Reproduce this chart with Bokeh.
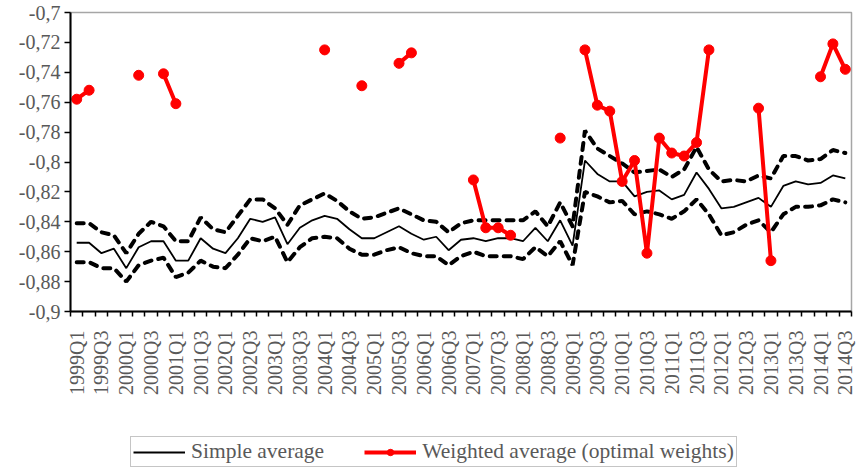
import math
import numpy as np
from bokeh.plotting import figure
from bokeh.layouts import column
from bokeh.models import Range1d, FixedTicker, Legend, LegendItem, ColumnDataSource
from bokeh.embed import file_html
from bokeh.resources import INLINE

# Quarterly periods 1999Q1 .. 2014Q3
quarters = [f"{y}Q{q}" for y in range(1999, 2015) for q in range(1, 5)][:63]

simple_avg = [
    -0.854, -0.854, -0.861, -0.858, -0.871, -0.857, -0.853, -0.853, -0.866, -0.866,
    -0.851, -0.858, -0.861, -0.851, -0.838, -0.840, -0.837, -0.855, -0.844, -0.839,
    -0.836, -0.838, -0.845, -0.851, -0.851, -0.847, -0.843, -0.848, -0.852, -0.850,
    -0.859, -0.852, -0.851, -0.853, -0.851, -0.851, -0.853, -0.844, -0.853, -0.839,
    -0.856, -0.799, -0.808, -0.813, -0.813, -0.823, -0.820, -0.819, -0.825, -0.822,
    -0.807, -0.818, -0.831, -0.830, -0.827, -0.824, -0.830, -0.816, -0.813, -0.815,
    -0.814, -0.809, -0.811,
]

upper_band = [
    -0.841, -0.841, -0.847, -0.849, -0.861, -0.848, -0.840, -0.843, -0.853, -0.853,
    -0.837, -0.845, -0.847, -0.836, -0.825, -0.825, -0.831, -0.842, -0.829, -0.825,
    -0.821, -0.826, -0.833, -0.838, -0.837, -0.834, -0.831, -0.835, -0.839, -0.840,
    -0.847, -0.841, -0.839, -0.839, -0.839, -0.839, -0.839, -0.833, -0.843, -0.827,
    -0.843, -0.779, -0.791, -0.796, -0.801, -0.807, -0.806, -0.805, -0.810, -0.805,
    -0.790, -0.805, -0.813, -0.812, -0.813, -0.809, -0.811, -0.796, -0.796, -0.799,
    -0.798, -0.792, -0.794,
]

lower_band = [
    -0.867, -0.867, -0.871, -0.871, -0.880, -0.869, -0.866, -0.864, -0.877, -0.874,
    -0.866, -0.870, -0.871, -0.862, -0.851, -0.853, -0.850, -0.867, -0.857, -0.851,
    -0.850, -0.851, -0.858, -0.862, -0.862, -0.859, -0.857, -0.861, -0.863, -0.863,
    -0.869, -0.863, -0.860, -0.863, -0.863, -0.863, -0.865, -0.857, -0.863, -0.853,
    -0.869, -0.820, -0.823, -0.827, -0.826, -0.835, -0.833, -0.835, -0.838, -0.833,
    -0.825, -0.835, -0.849, -0.847, -0.842, -0.839, -0.847, -0.835, -0.830, -0.830,
    -0.829, -0.825, -0.827,
]

nan = float("nan")
weighted_avg = [
    -0.758, -0.752, nan, nan, nan, -0.742, nan, -0.741, -0.761, nan,
    nan, nan, nan, nan, nan, nan, nan, nan, nan, nan,
    -0.725, nan, nan, -0.749, nan, nan, -0.734, -0.727, nan, nan,
    nan, nan, -0.812, -0.844, -0.844, -0.849, nan, nan, nan, -0.784,
    nan, -0.725, -0.762, -0.766, -0.813, -0.799, -0.861, -0.784, -0.794, -0.796,
    -0.787, -0.725, nan, nan, nan, -0.764, -0.866, nan, nan, nan,
    -0.743, -0.721, -0.738,
]

y_ticks = [-0.9, -0.88, -0.86, -0.84, -0.82, -0.8, -0.78, -0.76, -0.74, -0.72, -0.7]
y_tick_labels = ["-0,9", "-0,88", "-0,86", "-0,84", "-0,82", "-0,8",
                 "-0,78", "-0,76", "-0,74", "-0,72", "-0,7"]

n = len(quarters)
xc = np.arange(n) + 0.5  # category centres

src = ColumnDataSource(dict(
    x=xc,
    simple=np.array(simple_avg),
    upper=np.array(upper_band),
    lower=np.array(lower_band),
    weighted=np.array(weighted_avg, dtype=float),
))

TICK_FONT = "'Liberation Serif', 'Times New Roman', serif"
GREY = "#595959"
RED = "#ff0000"

p = figure(width=856, height=400, output_backend="svg", toolbar_location=None,
           x_range=Range1d(0, n), y_range=Range1d(-0.9, -0.7),
           min_border_left=70, min_border_right=5, min_border_top=12,
           min_border_bottom=89)
p.background_fill_color = "white"
p.border_fill_color = "white"
p.outline_line_color = "#a6a6a6"
p.outline_line_width = 1.5
p.xgrid.visible = False
p.ygrid.visible = False

# x axis: ticks on category boundaries, labels on every other category
xa = p.xaxis[0]
label_idx = list(range(0, n, 2))
xa.ticker = FixedTicker(ticks=[i + 0.5 for i in label_idx], minor_ticks=list(range(n + 1)))
xa.major_label_overrides = {i + 0.5: quarters[i] for i in label_idx}
xa.major_label_orientation = math.pi / 2
xa.major_tick_out = 0
xa.major_tick_in = 0
xa.minor_tick_out = 5
xa.minor_tick_in = 0
xa.minor_tick_line_color = "black"
xa.minor_tick_line_width = 1.5
xa.axis_line_color = "black"
xa.axis_line_width = 2
xa.major_label_standoff = 14
xa.major_label_text_font = TICK_FONT
xa.major_label_text_font_size = "20px"
xa.major_label_text_color = GREY

ya = p.yaxis[0]
ya.ticker = FixedTicker(ticks=y_ticks, minor_ticks=[])
ya.major_label_overrides = dict(zip(y_ticks, y_tick_labels))
ya.major_tick_out = 6
ya.major_tick_in = 0
ya.major_tick_line_color = "black"
ya.major_tick_line_width = 1.5
ya.minor_tick_out = 0
ya.axis_line_color = "black"
ya.axis_line_width = 2
ya.major_label_standoff = 4
ya.major_label_text_font = TICK_FONT
ya.major_label_text_font_size = "20px"
ya.major_label_text_color = GREY

# confidence bands
for col in ("upper", "lower"):
    p.line("x", col, source=src, line_color="black", line_width=4,
           line_dash="7 7", line_cap="round")

p.line("x", "simple", source=src, line_color="black", line_width=1.8)
p.line("x", "weighted", source=src, line_color=RED, line_width=4)
p.scatter("x", "weighted", source=src, size=10, fill_color=RED, line_color=RED)

# legend strip underneath the chart
leg = figure(width=856, height=70, output_backend="svg", toolbar_location=None,
             x_range=Range1d(0, 1), y_range=Range1d(0, 1),
             x_axis_location=None, y_axis_location=None, min_border=0)
leg.outline_line_color = None
leg.grid.visible = False
leg.background_fill_color = "white"
leg.border_fill_color = "white"

# key glyphs (their single point lies outside the strip's ranges)
off = dict(x=[-5], y=[-5])
k_simple = leg.line(off["x"], off["y"], line_color="black", line_width=1.8)
k_wline = leg.line(off["x"], off["y"], line_color=RED, line_width=4)
k_wpts = leg.scatter(off["x"], off["y"], size=10, fill_color=RED, line_color=RED)

legend = Legend(
    items=[LegendItem(label="Simple average", renderers=[k_simple]),
           LegendItem(label="Weighted average (optimal weights)", renderers=[k_wline, k_wpts])],
    orientation="horizontal",
    location=(60, 3),
    padding=2, spacing=40, margin=0,
    glyph_width=52, glyph_height=16, label_standoff=6, label_height=18,
    label_text_font=TICK_FONT, label_text_font_size="21.5px", label_text_color=GREY,
    border_line_color="#8c8c8c", border_line_width=1,
    background_fill_color="white", background_fill_alpha=1,
)
leg.add_layout(legend, "center")

layout = column(p, leg, spacing=0)
open("out.html", "w").write(file_html(layout, INLINE))
